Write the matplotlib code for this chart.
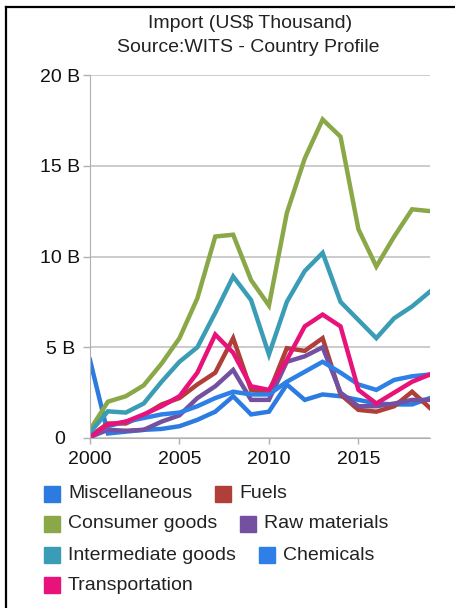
import numpy as np
import matplotlib.pyplot as plt
from matplotlib.lines import Line2D
from matplotlib.patches import Rectangle

plt.rcParams['font.family'] = ['Liberation Sans', 'DejaVu Sans']

years = list(range(2000, 2020))

miscellaneous = [4.3, 0.25, 0.35, 0.45, 0.5, 0.65, 1.0, 1.45, 2.3, 1.3,
                 1.45, 2.95, 2.1, 2.4, 2.3, 2.1, 1.9, 1.85, 1.85, 2.2]
fuels = [0.1, 0.8, 0.8, 1.25, 1.85, 2.2, 2.95, 3.6, 5.5, 2.65,
         2.5, 4.95, 4.8, 5.5, 2.4, 1.55, 1.45, 1.75, 2.55, 1.65]
consumer = [0.45, 2.0, 2.3, 2.9, 4.1, 5.5, 7.7, 11.1, 11.2, 8.7,
            7.3, 12.4, 15.4, 17.55, 16.6, 11.5, 9.45, 11.1, 12.6, 12.5]
raw_materials = [0.05, 0.45, 0.4, 0.45, 0.9, 1.25, 2.2, 2.85, 3.75, 2.1,
                 2.1, 4.2, 4.5, 5.0, 2.5, 1.75, 1.75, 1.9, 2.1, 2.1]
intermediate = [0.3, 1.47, 1.4, 1.9, 3.1, 4.2, 5.0, 6.9, 8.9, 7.6,
                4.6, 7.5, 9.2, 10.2, 7.5, 6.5, 5.5, 6.6, 7.25, 8.07]
chemicals = [0.1, 0.65, 0.9, 1.1, 1.3, 1.4, 1.75, 2.2, 2.55, 2.4,
             2.4, 3.1, 3.65, 4.2, 3.6, 2.95, 2.65, 3.2, 3.4, 3.5]
transportation = [0.05, 0.73, 0.9, 1.3, 1.75, 2.3, 3.6, 5.7, 4.7, 2.85,
                  2.65, 4.3, 6.15, 6.8, 6.15, 2.65, 1.9, 2.5, 3.1, 3.5]

names = ['Miscellaneous', 'Fuels', 'Consumer goods', 'Raw materials',
         'Intermediate goods', 'Chemicals', 'Transportation']
series = [miscellaneous, fuels, consumer, raw_materials, intermediate,
          chemicals, transportation]
colors = ['#2b7be0', '#b03f3a', '#8aa848', '#7451a0', '#3a9db5',
          '#2f80e6', '#e8137a']

W, H = 455, 608
fig = plt.figure(figsize=(W / 100, H / 100), dpi=100)
ax = fig.add_axes([90 / W, 1 - 438 / H, 340 / W, 363 / H])

for vals, c in zip(series, colors):
    ax.plot(years, np.array(vals) * 1e9, color=c, lw=3.2, solid_joinstyle='miter')

ax.set_xlim(2000, 2019)
ax.set_ylim(0, 20e9)
ax.set_yticks([0, 5e9, 10e9, 15e9, 20e9])
ax.set_yticklabels(['0', '5 B', '10 B', '15 B', '20 B'], ha='center')
ax.set_xticks([2000, 2005, 2010, 2015])
ax.grid(axis='y', color='#c4c4c4', lw=1.2)
ax.set_axisbelow(True)
for s in ['top', 'right']:
    ax.spines[s].set_visible(False)
ax.spines['left'].set_color('#b0b0b0')
ax.spines['bottom'].set_color('#b0b0b0')
ax.tick_params(axis='both', colors='#b0b0b0', labelcolor='#111111',
               labelsize=14, width=1)
ax.tick_params(axis='y', length=5, pad=16.5)
ax.tick_params(axis='x', length=4, pad=5.5)

fig.text(250 / W, 1 - 24 / H, 'Import (US$ Thousand)', ha='center',
         va='center', fontsize=14, color='#222222')
fig.text(248 / W, 1 - 47 / H, 'Source:WITS - Country Profile', ha='center',
         va='center', fontsize=14, color='#222222')

# legend, flow layout like the original
rows = [[0, 1], [2, 3], [4, 5], [6]]
row_y = [494, 524, 555, 585]
fig.canvas.draw()
r = fig.canvas.get_renderer()
for row, yc in zip(rows, row_y):
    x = 44
    for i in row:
        fig.patches.append(Rectangle((x / W, 1 - (yc + 8) / H), 16 / W, 16 / H,
                                     transform=fig.transFigure,
                                     color=colors[i], figure=fig))
        t = fig.text((x + 24) / W, 1 - yc / H, names[i], ha='left',
                     va='center', fontsize=14, color='#222222')
        bb = t.get_window_extent(renderer=r)
        x = bb.x1 + 23

# frame lines at top and left
fig.add_artist(Line2D([6 / W, 6 / W], [0, 1 - 7 / H], color='black', lw=1.6,
                      transform=fig.transFigure))
fig.add_artist(Line2D([6 / W, 1], [1 - 7 / H, 1 - 7 / H], color='black',
                      lw=1.6, transform=fig.transFigure))

fig.savefig('out.png', dpi=100)
